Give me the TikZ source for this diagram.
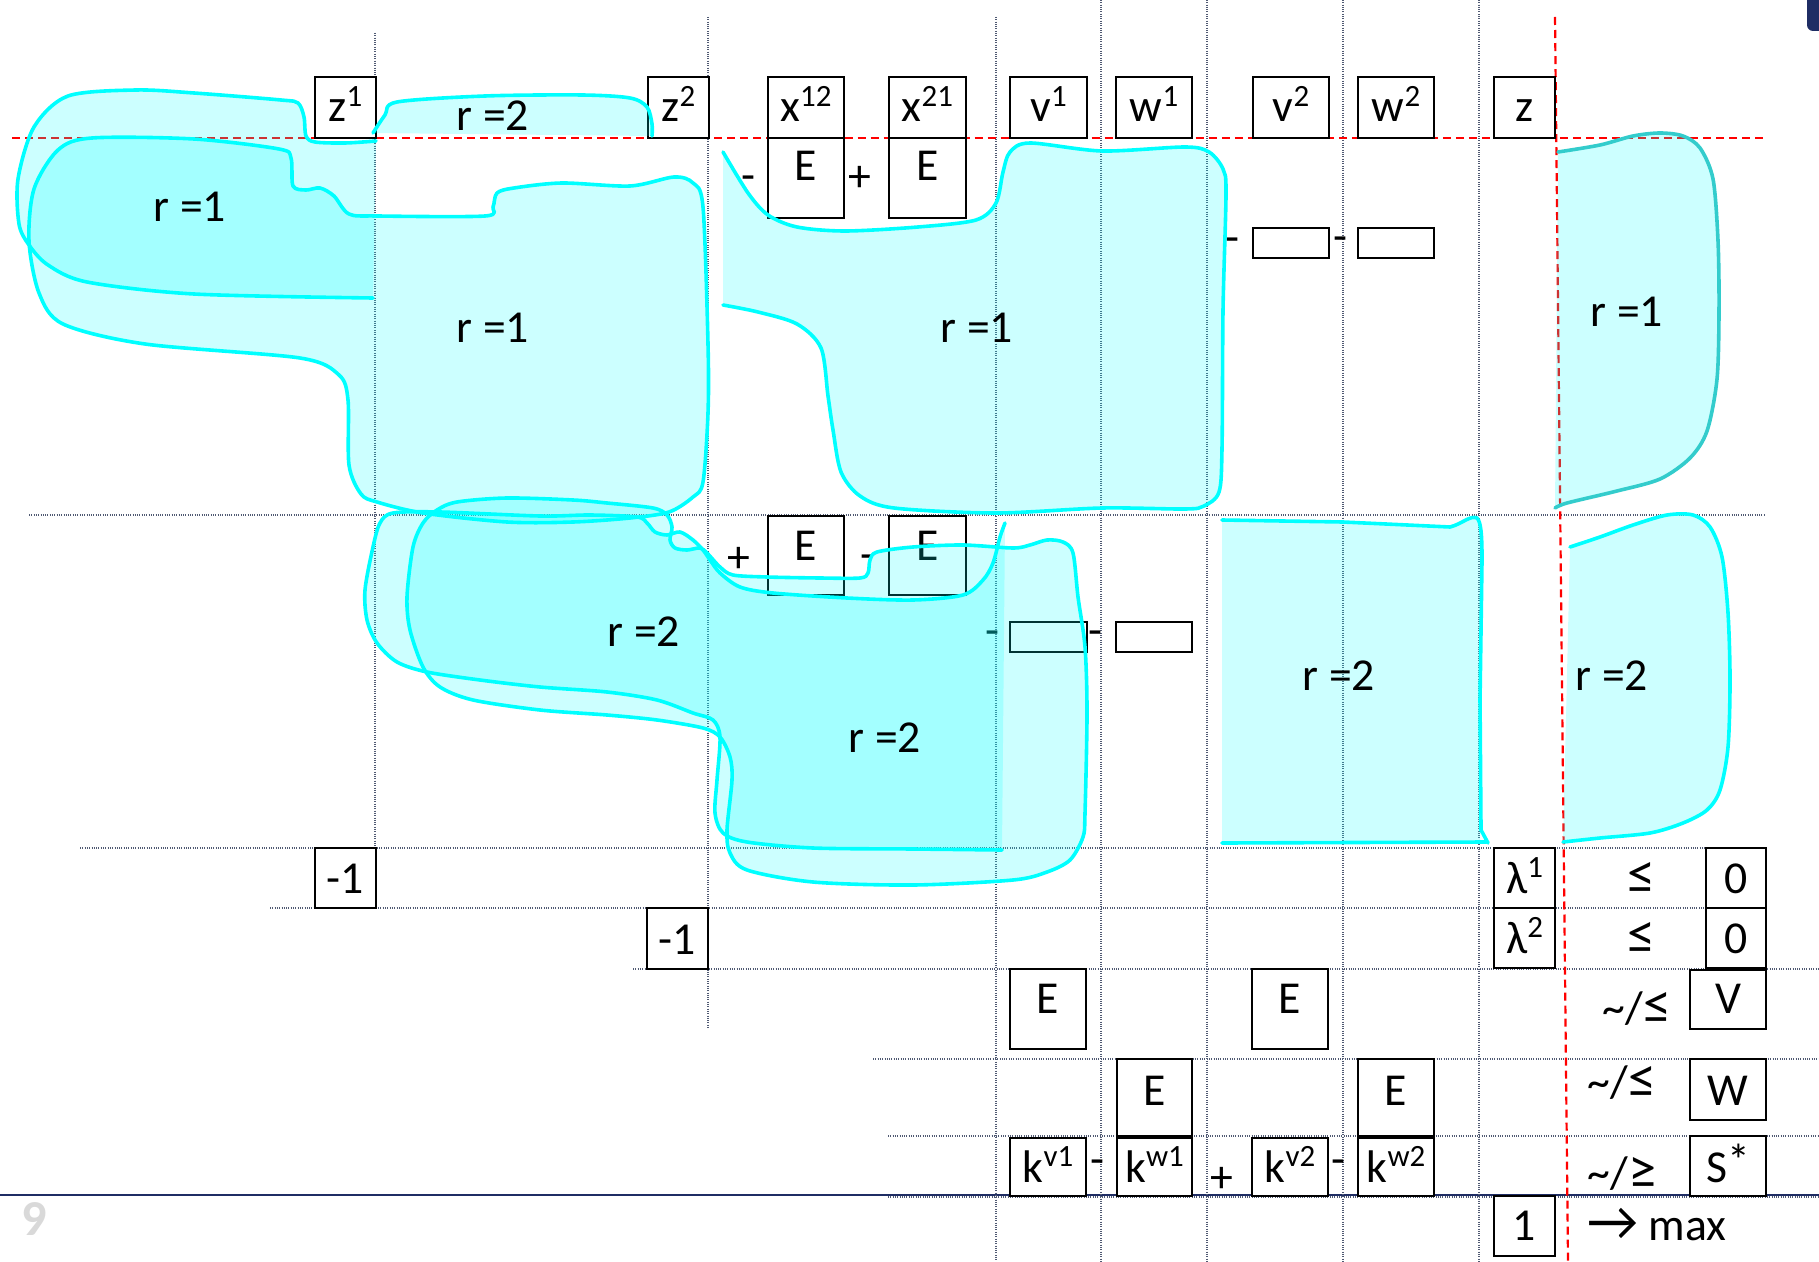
\documentclass[tikz,border=0pt]{standalone}
\usepackage{fontspec}
\setmainfont{Carlito}
\definecolor{cyanc}{RGB}{0,255,255}
\definecolor{tealc}{RGB}{51,204,204}
\definecolor{gridc}{RGB}{80,90,115}
\definecolor{navyc}{RGB}{31,45,100}
\definecolor{redc}{RGB}{255,0,0}
\definecolor{pagenum}{RGB}{217,217,217}
\tikzset{
  gridline/.style={draw=gridc, line width=0.014cm, dash pattern=on 0.01cm off 0.013cm},
  redline/.style={draw=redc, line width=0.022cm, dash pattern=on 0.08cm off 0.05cm},
  boxst/.style={draw=black, line width=0.02cm, fill=white, inner sep=0pt, outer sep=0pt},
  txt/.style={anchor=base, inner sep=0pt, outer sep=0pt, font=\fontsize{13}{15}\selectfont},
  blobfill/.style={fill=cyanc, fill opacity=0.2},
  blobline/.style={draw=cyanc, line width=0.036cm, line join=round, line cap=round},
  tealline/.style={draw=tealc, line width=0.036cm, line join=round, line cap=round},
}
\newcommand\sups[1]{\raisebox{0.34em}{\fontsize{8.8}{10}\selectfont #1}}
\newcommand\bigrel[1]{{\fontsize{16}{16}\selectfont #1}}
\newcommand\mybox[7]{%
  \node[boxst, minimum width={(#4-#2)*0.01cm}, minimum height={(#5-#3)*0.01cm}] (#1) at ({(#2+#4)/2},{(#3+#5)/2}) {};
  \node[txt] (#1-t) at ({(#2+#4)/2},#7) {#6};}
\newcommand\openblob[2]{%
  \fill[blobfill] plot[smooth, tension=0.5] coordinates {#2} -- cycle;
  \draw[#1] plot[smooth, tension=0.5] coordinates {#2};}
\newcommand\closedblob[2]{%
  \fill[blobfill] plot[smooth cycle, tension=0.5] coordinates {#2};
  \draw[#1] plot[smooth cycle, tension=0.5] coordinates {#2};}
\begin{document}
\begin{tikzpicture}[x=0.01cm, y=-0.01cm]
\useasboundingbox[fill=white] (0,0) rectangle (1819,1261);

% corner mark and footer
\fill[navyc, rounded corners=0.06cm] (1807,-20) rectangle (1840,31);
\draw[navyc, line width=0.02cm] (0,1195) -- (1819,1195);
\node[anchor=base, inner sep=0pt, text=pagenum, font=\fontsize{14.3}{16}\selectfont\bfseries] (pg) at (34,1235) {9};

% grid
\coordinate (h1a) at (29,515);   \coordinate (h1b) at (1766,515);
\coordinate (h2a) at (80,848);   \coordinate (h2b) at (1766,848);
\coordinate (h3a) at (270,908);  \coordinate (h3b) at (1766,908);
\coordinate (h4a) at (633,969);  \coordinate (h4b) at (1819,969);
\coordinate (h5a) at (873,1059); \coordinate (h5b) at (1819,1059);
\coordinate (h6a) at (888,1136); \coordinate (h6b) at (1819,1136);
\coordinate (h7a) at (888,1197); \coordinate (h7b) at (1819,1197);
\foreach \i in {1,...,7} {\draw[gridline] (h\i a) -- (h\i b);}
\coordinate (v1a) at (375,33);   \coordinate (v1b) at (375,848);
\coordinate (v2a) at (708,17);   \coordinate (v2b) at (708,1028);
\coordinate (v3a) at (996,17);   \coordinate (v3b) at (996,1261);
\coordinate (v4a) at (1101,0);   \coordinate (v4b) at (1101,1261);
\coordinate (v5a) at (1207,0);   \coordinate (v5b) at (1207,1261);
\coordinate (v6a) at (1343,0);   \coordinate (v6b) at (1343,1261);
\coordinate (v7a) at (1479,0);   \coordinate (v7b) at (1479,1261);
\foreach \i in {1,...,7} {\draw[gridline] (v\i a) -- (v\i b);}

% red dashed axes
\coordinate (rha) at (12,138);   \coordinate (rhb) at (1767,138);
\coordinate (rva) at (1555,17);  \coordinate (rvb) at (1568,1261);
\draw[redline] (rha) -- (rhb);
\draw[redline] (rva) -- (rvb);

% header row
\mybox{z1}{315}{77.5}{376}{138}{z\sups{1}}{122}
\mybox{z2}{648}{77.5}{709}{138}{z\sups{2}}{122}
\mybox{x12}{768}{77.5}{844}{138}{x\sups{12}}{122}
\mybox{x21}{889}{77.5}{966}{138}{x\sups{21}}{122}
\mybox{v1}{1010}{77.5}{1087}{138}{v\sups{1}}{122}
\mybox{w1}{1116}{77.5}{1192}{138}{w\sups{1}}{122}
\mybox{v2}{1253}{77.5}{1329}{138}{v\sups{2}}{122}
\mybox{w2}{1358}{77.5}{1434}{138}{w\sups{2}}{122}
\mybox{z}{1494}{77.5}{1555}{138}{z}{122}

% row 1
\mybox{ea}{768}{138}{844}{218}{E}{181}
\mybox{eb}{889}{138}{966}{218}{E}{181}
\node[txt] (m1) at (748,191) {-};
\node[txt] (p1) at (860,192) {+};
\mybox{sa}{1253}{228}{1329}{258}{}{250}
\mybox{sb}{1358}{228}{1434}{258}{}{250}
\node[txt] (m2) at (1232,253) {-};
\node[txt] (m3) at (1340,252) {-};

% row 2
\mybox{ec}{768}{516}{844}{595}{E}{560}
\mybox{ed}{889}{516}{966}{595}{E}{560}
\node[txt] (p2) at (739,572) {+};
\node[txt] (m4) at (867,569) {-};
\mybox{sc}{1010}{622}{1087}{652}{}{645}
\mybox{sd}{1116}{622}{1192}{652}{}{645}
\node[txt] (m5) at (992,645) {-};
\node[txt] (m6) at (1095,645) {-};

% lower rows
\mybox{na}{315}{848}{376}{908}{-1}{893}
\mybox{nb}{647}{908}{708}{969}{-1}{954}
\mybox{la}{1494}{848}{1555}{908}{λ\sups{1}}{893}
\mybox{lb}{1494}{908}{1555}{968}{λ\sups{2}}{953}
\mybox{oa}{1706}{848}{1766}{908}{0}{893}
\mybox{ob}{1706}{908}{1766}{968}{0}{953}
\node[txt] (le1) at (1641,893) {\bigrel{≤}};
\node[txt] (le2) at (1641,953) {\bigrel{≤}};
\mybox{fa}{1010}{969}{1086}{1049}{E}{1013}
\mybox{fb}{1252}{969}{1328}{1049}{E}{1013}
\mybox{V}{1690}{970}{1766}{1029}{V}{1013}
\node[txt] (r3) at (1637,1023) {\textasciitilde/\bigrel{≤}};
\mybox{ga}{1117}{1059}{1192}{1136}{E}{1105}
\mybox{gb}{1358}{1059}{1434}{1136}{E}{1105}
\mybox{W}{1690}{1059}{1766}{1120}{W}{1105}
\node[txt] (r4) at (1622,1097) {\textasciitilde/\bigrel{≤}};
\mybox{kv1}{1010}{1138}{1086}{1196}{k\sups{v1}}{1182}
\mybox{kw1}{1117}{1138}{1192}{1196}{k\sups{w1}}{1182}
\mybox{kv2}{1252}{1138}{1328}{1196}{k\sups{v2}}{1182}
\mybox{kw2}{1358}{1138}{1434}{1196}{k\sups{w2}}{1182}
\node[txt] (m7) at (1097,1174) {-};
\node[txt] (p3) at (1222,1192) {+};
\node[txt] (m8) at (1338,1174) {-};
\mybox{S}{1690}{1136}{1766}{1196}{S\raisebox{0.12em}{*}}{1182}
\node[txt] (r5) at (1622,1188) {\textasciitilde/\bigrel{≥}};
\mybox{one}{1494}{1196}{1555}{1256}{1}{1240}
\node[txt] (mx) at (1657,1240) {\bigrel{→} max};

% ---- blobs ----
% S1 (z1, r=1, outer)
\openblob{blobline}{(376,141) (345,143) (315,142) (306,136) (304,117) (298,103) (281,100) (194,93) (136,90) (68,96) (34,127) (18,179) (19,224) (29,245) (48,265) (87,282) (194,294) (373,298)}
% S2 (big r=1)
\closedblob{blobline}{(58,150) (92,138) (194,139) (279,149) (291,158) (293,186) (306,190) (320,188) (334,196) (349,214) (378,216) (485,216) (493,207) (497,193) (514,188) (562,183) (630,186) (674,177) (693,183) (703,207) (708,344) (708,413) (703,482) (693,497) (669,512) (630,518) (573,522) (507,522) (423,513) (377,502) (361,494) (349,465) (348,400) (339,375) (300,358) (145,344) (63,324) (39,293) (29,241) (34,189)}
% S3 (top r=2)
\openblob{blobline}{(373,133) (385,115) (397,102) (485,96) (582,95) (630,98) (647,107) (652,124) (652,136)}
% S4 (row 1, x/v/w)
\openblob{blobline}{(723,152) (748,193) (768,215) (797,227) (845,231) (918,227) (976,220) (996,203) (1003,172) (1010,152) (1030,143) (1102,151) (1185,147) (1209,152) (1223,169) (1226,193) (1223,310) (1222,448) (1219,492) (1204,506) (1185,509) (1102,508) (996,513) (894,508) (860,496) (841,472) (833,430) (828,396) (821,348) (797,324) (758,312) (723,305)}
% S5 (z column, r=1)
\openblob{tealline}{(1558,152) (1600,145) (1633,136) (1660,133) (1683,136) (1700,148) (1713,179) (1718,241) (1719,310) (1717,379) (1707,431) (1690,458) (1660,479) (1617,491) (1567,503) (1555,508)}
% T (row 2, big r=2)
\closedblob{blobline}{(457,502) (507,498) (573,500) (607,503) (653,508) (667,515) (672,527) (670,540) (675,548) (687,550) (700,548) (707,553) (720,567) (733,575) (767,577) (820,578) (860,578) (868,573) (870,560) (877,552) (913,547) (963,545) (1013,548) (1030,545) (1047,540) (1063,542) (1073,553) (1078,597) (1085,647) (1087,713) (1085,813) (1083,837) (1070,860) (1047,872) (1013,880) (913,885) (813,882) (747,870) (730,853) (727,830) (732,780) (730,757) (720,737) (703,728) (657,720) (607,715) (540,710) (473,700) (440,687) (423,667) (410,630) (407,597) (413,547) (423,523) (437,510)}
% U (row 2, second r=2)
\openblob{blobline}{(1002,850) (913,849) (813,848) (747,842) (723,833) (715,813) (717,780) (720,737) (713,720) (693,713) (657,700) (607,692) (540,687) (480,680) (427,672) (397,662) (377,643) (367,620) (365,590) (373,547) (380,523) (393,513) (440,512) (540,516) (590,515) (637,517) (647,523) (655,532) (667,535) (680,532) (693,540) (703,550) (710,560) (720,573) (740,587) (773,593) (847,598) (913,600) (963,595) (983,580) (993,563) (1000,537) (1005,523)}
% V (v2/w2 r=2)
\fill[blobfill] (1222,520) -- (1343,522) -- (1450,527) .. controls (1462,524) and (1470,515) .. (1477,518) .. controls (1481,522) and (1482,535) .. (1482,560) -- (1480,842) -- (1222,843) -- cycle;
\draw[blobline] (1222,520) -- (1343,522) -- (1450,527) .. controls (1462,524) and (1470,515) .. (1477,518) .. controls (1481,522) and (1482,535) .. (1482,560) -- (1480,700) -- (1481,830) -- (1488,843);
\draw[blobline] (1222,843) -- (1486,842);
% W (z column, r=2)
\openblob{blobline}{(1570,547) (1600,537) (1633,525) (1667,515) (1693,515) (1710,527) (1722,557) (1728,613) (1730,680) (1728,747) (1720,790) (1707,810) (1683,823) (1650,833) (1600,838) (1563,842)}

% labels
\node[txt] (L1) at (190,222) {r =1};
\node[txt] (L2) at (493,131) {r =2};
\node[txt] (L3) at (493,343) {r =1};
\node[txt] (L4) at (977,343) {r =1};
\node[txt] (L5) at (1627,327) {r =1};
\node[txt] (L6) at (644,646) {r =2};
\node[txt] (L7) at (885,752) {r =2};
\node[txt] (L8) at (1339,690) {r =2};
\node[txt] (L9) at (1612,690) {r =2};
\end{tikzpicture}
\end{document}
